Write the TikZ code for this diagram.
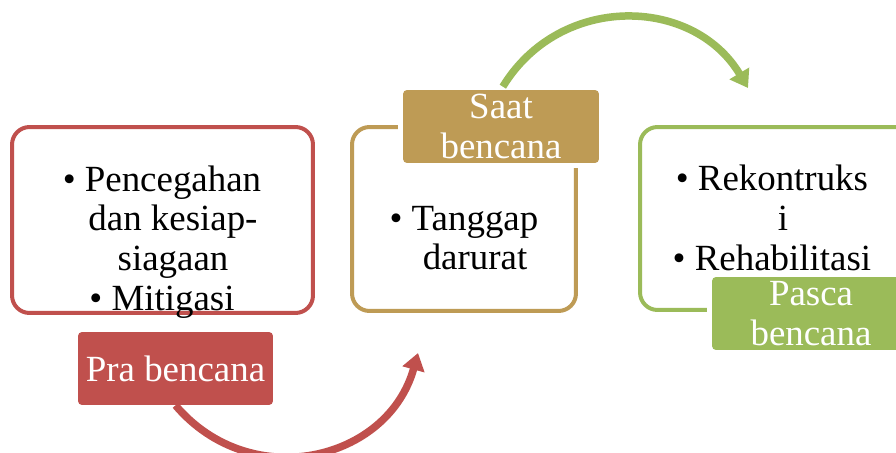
\documentclass[tikz,border=0pt]{standalone}
\usepackage{fontspec}
\setmainfont{Liberation Serif}
\usetikzlibrary{arrows.meta}
\definecolor{praRed}{HTML}{C0504D}
\definecolor{saatTan}{HTML}{BE9B55}
\definecolor{pascaGreen}{HTML}{9BBB59}

\begin{document}
\begin{tikzpicture}[
    x=0.02cm, y=-0.02cm,
    every node/.style = { font=\fontsize{21}{22.6}\selectfont },
    phase/.style = { draw, line width=0.08cm, rounded corners=0.35cm },
    tag/.style = { rounded corners=0.08cm, text=white, align=center, inner sep=0pt,
                   preaction={draw=white, line width=0.2cm},
                   minimum width=3.92cm, minimum height=1.46cm },
    items/.style = { align=center, inner sep=0pt },
    cycle/.style = { line width=0.15cm, -{Triangle[length=0.34cm, width=0.44cm]} },
    ]

    % canvas
    \useasboundingbox (0,0) rectangle (896,453);
    \clip (0,0) rectangle (896,453);
    \fill[white] (0,0) rectangle (896,453);

    % phase boxes
    \node[phase, draw=praRed, minimum width=6.02cm, minimum height=3.72cm] (prabox) at (162.5,220) {};
    \node[phase, draw=saatTan, minimum width=4.48cm, minimum height=3.68cm] (saatbox) at (464,219) {};
    \node[phase, draw=pascaGreen, minimum width=5.72cm, minimum height=3.66cm] (pascabox) at (783,218.5) {};

    % contents
    \node[items] (praitems) at (173,242) {\llap{\textbullet\ }Pencegahan\\dan kesiap-\\siagaan\\\llap{\textbullet\ }Mitigasi};
    \node[items] (saatitems) at (475,238) {\llap{\textbullet\ }Tanggap\\darurat};
    \node[items] (pascaitems) at (783,218) {\llap{\textbullet\ }Rekontruks\\i\\\llap{\textbullet\ }Rehabilitasi};

    % phase names
    \node[tag, fill=praRed, minimum width=3.9cm] (pralabel) at (175.5,368.5) {Pra bencana};
    \node[tag, fill=saatTan] (saatlabel) at (501,126.5) {Saat\\bencana};
    \node[tag, fill=pascaGreen, minimum width=3.96cm] (pascalabel) at (811,313.5) {Pasca\\bencana};

    % arrows
    \coordinate (pratip) at (418,353);
    \coordinate (saattip) at (748,88);
    \draw[cycle, praRed] (pralabel.south) .. controls (251,494) and (388,461) .. (pratip);
    \draw[cycle, pascaGreen, shorten <=2pt] (saatlabel.north) .. controls (560,-7) and (693,-4) .. (saattip);

\end{tikzpicture}
\end{document}
